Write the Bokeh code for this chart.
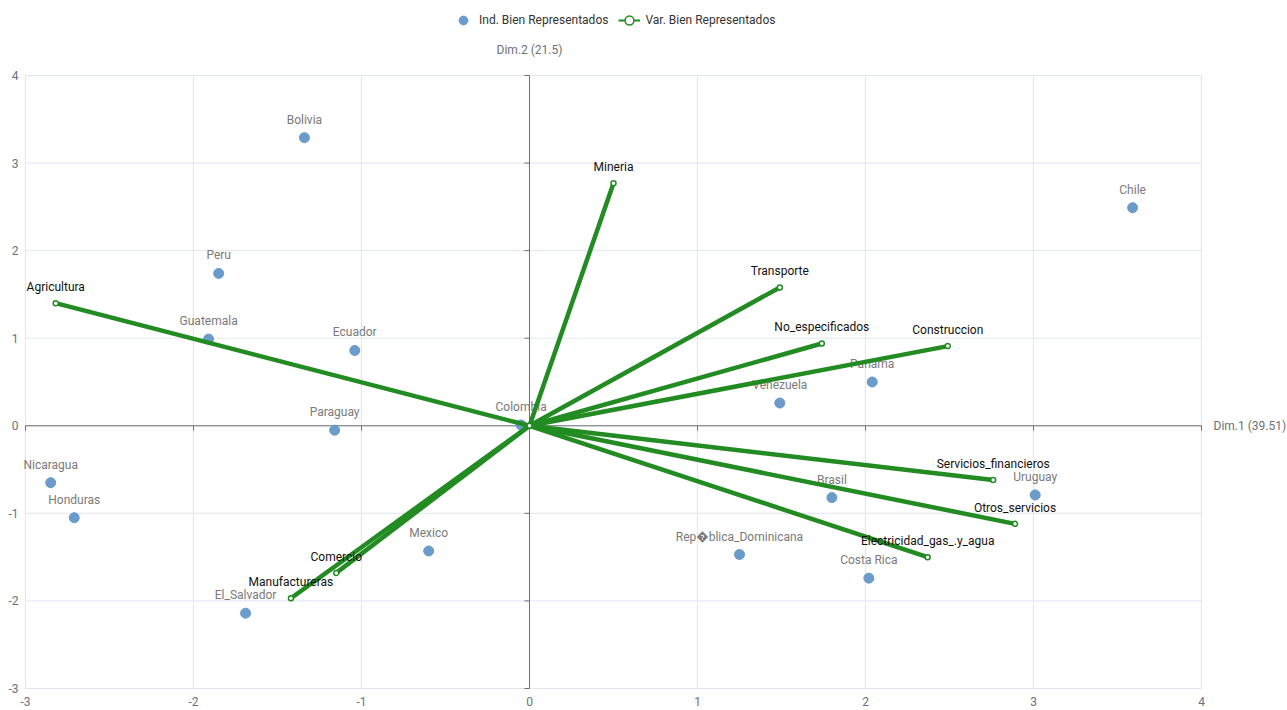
import math
from bokeh.plotting import figure
from bokeh.models import ColumnDataSource, Legend, LegendItem
from bokeh.embed import file_html
from bokeh.resources import INLINE
from bokeh.core.properties import value

# Individuals (countries) on the first two dimensions
countries = ["Bolivia", "Chile", "Peru", "Guatemala", "Ecuador", "Paraguay", "Colombia",
             "Venezuela", "Panama", "Nicaragua", "Honduras", "Mexico", "El_Salvador",
             "Brasil", "Uruguay", "Rep\ufffdblica_Dominicana", "Costa Rica"]
dim1_ind = [-1.34, 3.59, -1.85, -1.91, -1.04, -1.16, -0.05,
            1.49, 2.04, -2.85, -2.71, -0.60, -1.69,
            1.80, 3.01, 1.25, 2.02]
dim2_ind = [3.29, 2.49, 1.74, 0.99, 0.86, -0.05, 0.01,
            0.26, 0.50, -0.65, -1.05, -1.43, -2.14,
            -0.82, -0.79, -1.47, -1.74]

# Variables (economic sectors) as arrows from the origin
variables = ["Mineria", "Agricultura", "Transporte", "No_especificados", "Construccion",
             "Servicios_financieros", "Otros_servicios", "Electricidad_gas_.y_agua",
             "Comercio", "Manufactureras"]
dim1_var = [0.50, -2.82, 1.49, 1.74, 2.49, 2.76, 2.89, 2.37, -1.15, -1.42]
dim2_var = [2.77, 1.40, 1.58, 0.94, 0.91, -0.62, -1.12, -1.50, -1.68, -1.97]

x_ticks = [-3, -2, -1, 0, 1, 2, 3, 4]
y_ticks = [-3, -2, -1, 0, 1, 2, 3, 4]

FONT = "Roboto"
AXIS_GRAY = "#6E7079"
GRID = "#E0E6F1"
BLUE = "#6A9BCA"
GREEN = "#228B22"

W, H = 1287, 710
# plot area inside the canvas (pixels): left, right, top, bottom
PL, PR, PT, PB = 25, 1201, 75, 688
xmin, xmax = x_ticks[0], x_ticks[-1]
ymin, ymax = y_ticks[0], y_ticks[-1]
kx = (PR - PL) / (xmax - xmin)
ky = (PB - PT) / (ymax - ymin)

# The frame spans the whole canvas; ranges are widened so the area [-3,4]x[-3,4]
# sits where the plot area belongs, leaving room for captions and the legend.
p = figure(width=W, height=H,
           x_range=(xmin - PL / kx, xmax + (W - PR) / kx),
           y_range=(ymin - (H - PB) / ky, ymax + PT / ky),
           output_backend="svg", toolbar_location=None,
           x_axis_location=None, y_axis_location=None,
           min_border=0)
p.outline_line_color = None
p.grid.visible = False

# Grid lines bounded to the tick extent
p.segment(x0=x_ticks, y0=[ymin] * len(x_ticks), x1=x_ticks, y1=[ymax] * len(x_ticks),
          line_color=GRID, line_width=1)
p.segment(x0=[xmin] * len(y_ticks), y0=y_ticks, x1=[xmax] * len(y_ticks), y1=y_ticks,
          line_color=GRID, line_width=1)

# Axes crossing at the origin, with short ticks
p.segment(x0=[xmin, 0], y0=[0, ymin], x1=[xmax, 0], y1=[0, ymax],
          line_color=AXIS_GRAY, line_width=1)
p.ray(x=x_ticks, y=[0] * len(x_ticks), length=5, length_units="screen",
      angle=-math.pi / 2, line_color=AXIS_GRAY, line_width=1)
p.ray(x=[0] * len(y_ticks), y=y_ticks, length=5, length_units="screen",
      angle=math.pi, line_color=AXIS_GRAY, line_width=1)

# Tick labels along the bottom and left edges
p.text(x=x_ticks, y=[ymin] * len(x_ticks), text=[str(t) for t in x_ticks],
       text_align="center", text_baseline="middle", y_offset=13,
       text_font=value(FONT), text_font_size="12px", text_color=AXIS_GRAY)
p.text(x=[xmin] * len(y_ticks), y=y_ticks, text=[str(t) for t in y_ticks],
       text_align="right", text_baseline="middle", x_offset=-7,
       text_font=value(FONT), text_font_size="12px", text_color=AXIS_GRAY)

ind = ColumnDataSource(dict(x=dim1_ind, y=dim2_ind, name=countries))
var = ColumnDataSource(dict(x0=[0] * len(variables), y0=[0] * len(variables),
                            x=dim1_var, y=dim2_var, name=variables))

# Individuals
pts = p.scatter("x", "y", source=ind, size=10, color=BLUE)
p.text("x", "y", text="name", source=ind, text_align="center", text_baseline="middle",
       y_offset=-18, text_font=value(FONT), text_font_size="12px", text_color="#7a7a7a")

# Variable arrows
p.segment("x0", "y0", "x", "y", source=var, line_color=GREEN, line_width=4.5)
p.scatter("x", "y", source=var, size=5, fill_color="white", line_color=GREEN,
          line_width=1.5)

# Common start point of the arrows; also serves as the legend key
# (thin line with an open circle)
key_line = p.line(x=[0], y=[0], line_color=GREEN, line_width=2)
key_dot = p.scatter(x=[0], y=[0], size=5, fill_color="white", line_color=GREEN,
                    line_width=1.5)

p.text("x", "y", text="name", source=var, text_align="center", text_baseline="middle",
       y_offset=-16, text_font=value(FONT), text_font_size="12px", text_color="#111111")

# Dimension captions
p.text(x=[0], y=[ymax], text=["Dim.2 (21.5)"], text_align="center",
       text_baseline="middle", y_offset=-26, text_font=value(FONT),
       text_font_size="12px", text_color=AXIS_GRAY)
p.text(x=[xmax], y=[0], text=["Dim.1 (39.51)"], text_align="left",
       text_baseline="middle", x_offset=12, text_font=value(FONT),
       text_font_size="12px", text_color=AXIS_GRAY)

legend = Legend(items=[LegendItem(label="Ind. Bien Representados", renderers=[pts]),
                       LegendItem(label="Var. Bien Representados",
                                  renderers=[key_line, key_dot])],
                orientation="horizontal", location=(452, H - 33),
                border_line_color=None, background_fill_alpha=0,
                label_text_font=FONT, label_text_font_size="12px",
                label_text_color="#333333", glyph_width=22, glyph_height=26,
                label_height=14, padding=0, spacing=10, margin=0,
                label_standoff=5)
p.add_layout(legend, "center")

open("out.html", "w").write(file_html(p, INLINE))
